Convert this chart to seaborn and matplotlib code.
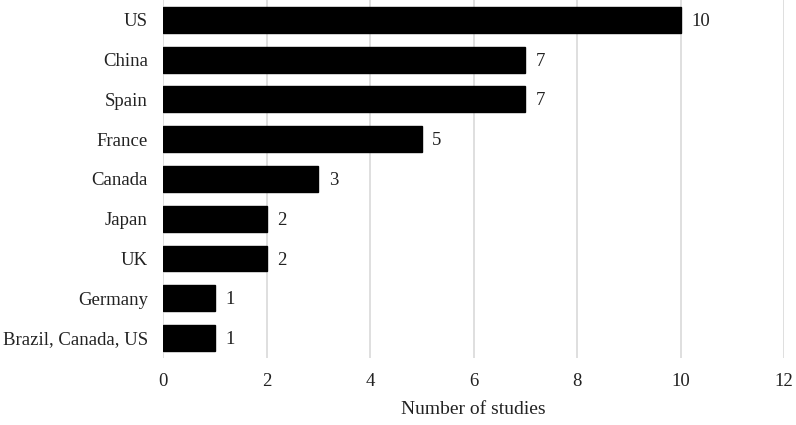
import matplotlib.pyplot as plt
import pandas as pd
import seaborn as sns


countries = ["US", "China", "Spain", "France", "Canada", "Japan", "UK",
             "Germany", "Brazil, Canada, US"]
studies = [10, 7, 7, 5, 3, 2, 2, 1, 1]
x_ticks = [0, 2, 4, 6, 8, 10, 12]


def main() -> None:
    df = pd.DataFrame({"country": countries, "studies": studies})

    sns.set_style("white")
    plt.rcParams["font.family"] = ["Liberation Serif", "DejaVu Serif"]

    fig = plt.figure(figsize=(7.96, 4.25), dpi=100)
    ax = fig.add_axes([0.205, 0.158, 0.78, 0.842])

    sns.barplot(data=df, x="studies", y="country", color="black",
                width=0.65, edgecolor="black", ax=ax, zorder=3)

    for i, v in enumerate(studies):
        ax.text(v + 0.2, i + 0.04, str(v), va="center", ha="left",
                fontsize=13.5, color="#222222")

    ax.set_xlim(0, 12)
    ax.set_ylim(len(countries) - 0.5, -0.5)
    ax.set_xticks(x_ticks)
    ax.xaxis.grid(True, color="#d9d9d9", linewidth=1.2, zorder=0)
    ax.set_axisbelow(True)
    for s in ax.spines.values():
        s.set_visible(False)
    ax.tick_params(axis="both", length=0, labelsize=13.5, colors="#222222")
    ax.tick_params(axis="x", pad=11)
    ax.tick_params(axis="y", pad=11)
    ax.set_ylabel("")
    ax.set_xlabel("Number of studies", fontsize=14, color="#222222",
                  labelpad=8)

    fig.savefig("out.png", dpi=100)
    plt.close(fig)


if __name__ == "__main__":
    main()
